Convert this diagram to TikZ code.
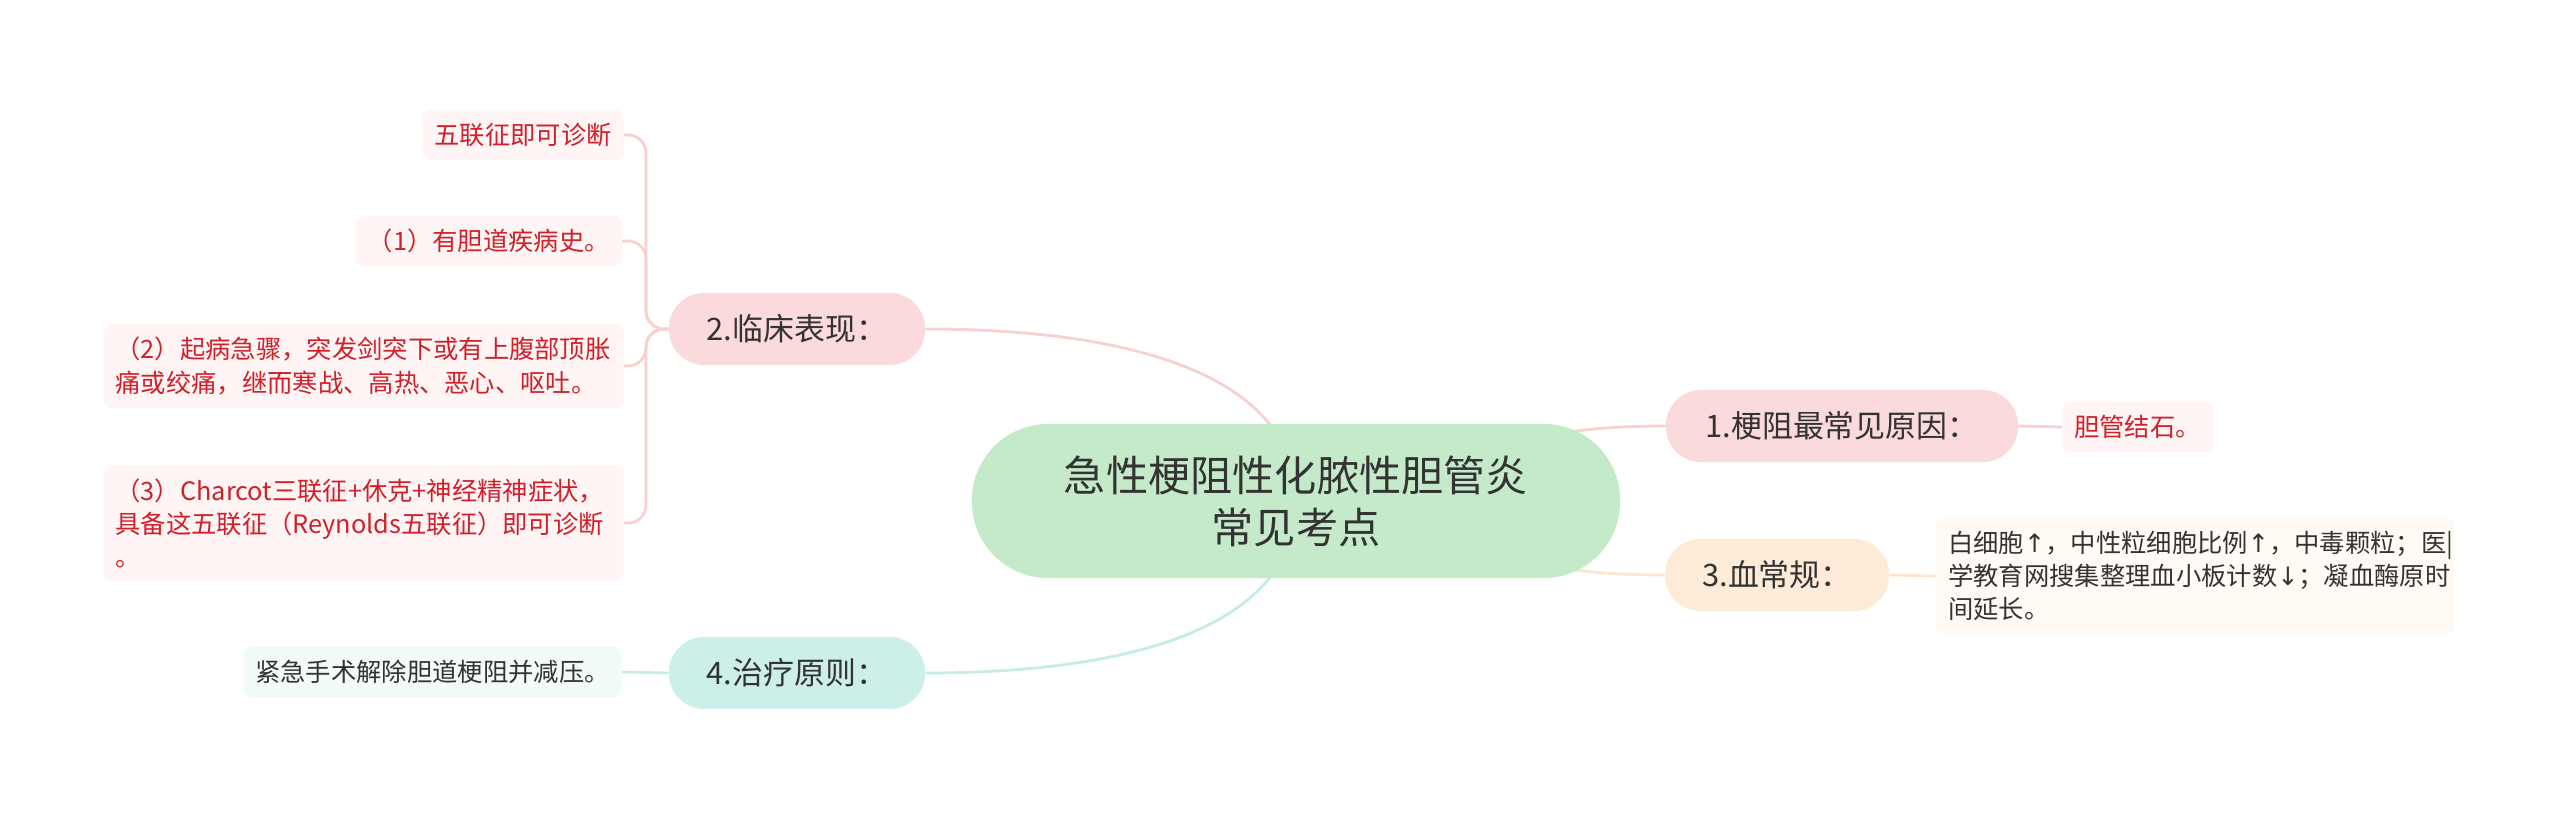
\documentclass[tikz,border=0pt]{standalone}
\usepackage{fontspec}
\setmainfont{Noto Sans CJK SC}
\newfontfamily\arrowfont{DejaVu Sans}
\usetikzlibrary{backgrounds}

\definecolor{rootfill}{HTML}{C5EAC9}
\definecolor{pinkfill}{HTML}{FADADA}
\definecolor{orangefill}{HTML}{FDEBD8}
\definecolor{tealfill}{HTML}{CDEFEA}
\definecolor{leafpink}{HTML}{FFF5F5}
\definecolor{leafcream}{HTML}{FFFBF4}
\definecolor{leafteal}{HTML}{F2FBFA}
\definecolor{leafred}{HTML}{D0202A}
\definecolor{textdark}{HTML}{333333}
\definecolor{pinkline}{HTML}{F7D0D0}
\definecolor{orangeline}{HTML}{FCE6D2}
\definecolor{tealline}{HTML}{C4EDE7}

\tikzset{
  root/.style={fill=rootfill, text=textdark, rounded corners=1.9cm,
    minimum width=16.2cm, minimum height=3.85cm, align=center,
    font=\fontsize{30}{37}\selectfont},
  branch/.style={rounded corners=0.88cm, minimum height=1.8cm, text=textdark,
    font=\fontsize{22}{26}\selectfont},
  leaf/.style={rounded corners=0.2cm, inner xsep=0.3cm, inner ysep=0.33cm,
    align=left, font=\fontsize{18}{23.5}\selectfont},
  redleaf/.style={leaf, fill=leafpink, text=leafred},
  link/.style={line width=2pt},
}

\begin{document}
\begin{tikzpicture}[x=0.025cm, y=-0.025cm]
    \useasboundingbox (0,0) rectangle (2560,816);
    %% Root
    \node[root] (root) at (1296,501) {急性梗阻性化脓性胆管炎\\常见考点};
    %% Branches
    \node[branch, fill=pinkfill, minimum width=8.8cm] (b1) at (1842,426) {1.梗阻最常见原因：};
    \node[branch, fill=pinkfill, minimum width=6.4cm] (b2) at (797,329) {2.临床表现：};
    \node[branch, fill=orangefill, minimum width=5.6cm] (b3) at (1777,575) {3.血常规：};
    \node[branch, fill=tealfill, minimum width=6.4cm] (b4) at (797,673) {4.治疗原则：};
    %% Leaves of 1
    \node[redleaf, anchor=west] (stone) at (2062,427) {胆管结石。};
    %% Leaves of 2
    \node[redleaf, anchor=east] (l5) at (624,135) {五联征即可诊断};
    \node[redleaf, anchor=east] (l1) at (622,241) {（1）有胆道疾病史。};
    \node[redleaf, anchor=east, text width=12.4cm] (l2) at (624,366)
      {（2）起病急骤，突发剑突下或有上腹部顶胀\\痛或绞痛，继而寒战、高热、恶心、呕吐。};
    \node[redleaf, anchor=east, text width=12.4cm] (l3) at (624,523)
      {（3）Charcot三联征+休克+神经精神症状，\\具备这五联征（Reynolds五联征）即可诊断\\。};
    %% Leaves of 3
    \node[leaf, fill=leafcream, text=textdark, anchor=west, text width=12.35cm] (blood) at (1936,576)
      {白细胞{\arrowfont ↑}，中性粒细胞比例{\arrowfont ↑}，中毒颗粒；医|\\学教育网搜集整理血小板计数{\arrowfont ↓}；凝血酶原时\\间延长。};
    %% Leaves of 4
    \node[leaf, fill=leafteal, text=textdark, anchor=east] (treat) at (622,672) {紧急手术解除胆道梗阻并减压。};
    \coordinate (hub2) at (646,329);
    %% Links
    \begin{scope}[on background layer]
        \draw[link, pinkline] (root.center) to[out=0, in=180, looseness=1.6] (b1.west);
        \draw[link, orangeline] (root.center) to[out=0, in=180, looseness=1.6] (b3.west);
        \draw[link, pinkline] (root.center) .. controls +(0,-120) and +(220,0) .. (b2.east);
        \draw[link, tealline] (root.center) .. controls +(0,120) and +(220,0) .. (b4.east);
        \draw[link, pinkline] (b1.east) -- (stone.west);
        \draw[link, orangeline] (b3.east) -- (blood.west);
        \draw[link, tealline] (b4.west) -- (treat.east);
        \foreach \leaf in {l5,l1,l2,l3}
            \draw[link, pinkline, rounded corners=0.45cm] (b2.west) -- (hub2) |- (\leaf.east);
    \end{scope}
\end{tikzpicture}
\end{document}
